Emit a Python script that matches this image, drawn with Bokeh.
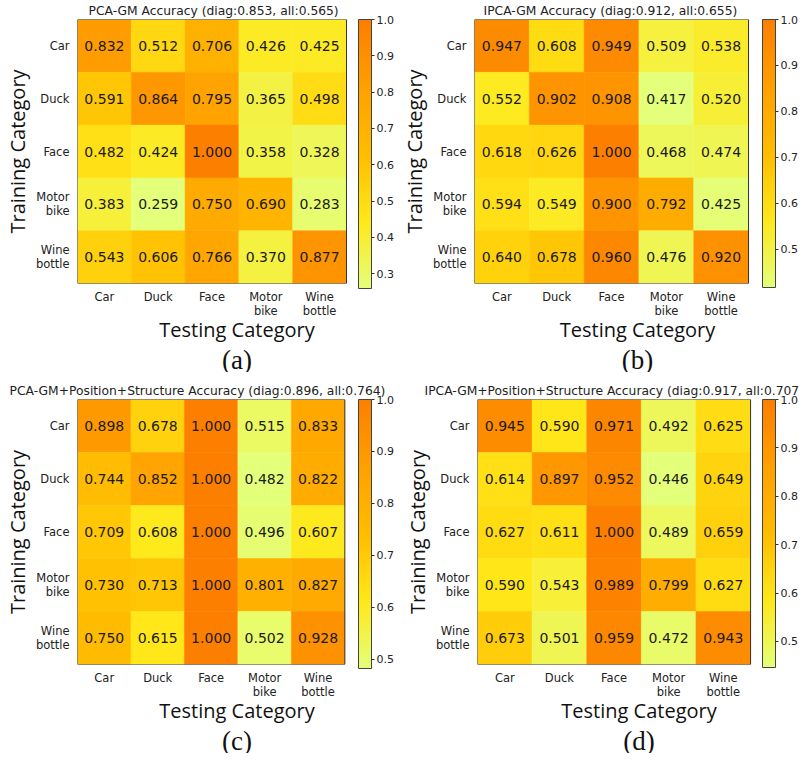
import numpy as np
from bokeh.plotting import figure
from bokeh.models import (ColumnDataSource, LinearColorMapper, ColorBar, FixedTicker,
                          PrintfTickFormatter, Title, Range1d)
from bokeh.layouts import column, row
from bokeh.embed import file_html
from bokeh.resources import INLINE
from bokeh.transform import transform

# ---------------- data ----------------
categories = ["Car", "Duck", "Face", "Motor\nbike", "Wine\nbottle"]

pca_gm = [
    [0.832, 0.512, 0.706, 0.426, 0.425],
    [0.591, 0.864, 0.795, 0.365, 0.498],
    [0.482, 0.424, 1.000, 0.358, 0.328],
    [0.383, 0.259, 0.750, 0.690, 0.283],
    [0.543, 0.606, 0.766, 0.370, 0.877],
]
ipca_gm = [
    [0.947, 0.608, 0.949, 0.509, 0.538],
    [0.552, 0.902, 0.908, 0.417, 0.520],
    [0.618, 0.626, 1.000, 0.468, 0.474],
    [0.594, 0.549, 0.900, 0.792, 0.425],
    [0.640, 0.678, 0.960, 0.476, 0.920],
]
pca_gm_ps = [
    [0.898, 0.678, 1.000, 0.515, 0.833],
    [0.744, 0.852, 1.000, 0.482, 0.822],
    [0.709, 0.608, 1.000, 0.496, 0.607],
    [0.730, 0.713, 1.000, 0.801, 0.827],
    [0.750, 0.615, 1.000, 0.502, 0.928],
]
ipca_gm_ps = [
    [0.945, 0.590, 0.971, 0.492, 0.625],
    [0.614, 0.897, 0.952, 0.446, 0.649],
    [0.627, 0.611, 1.000, 0.489, 0.659],
    [0.590, 0.543, 0.989, 0.799, 0.627],
    [0.673, 0.501, 0.959, 0.472, 0.943],
]
titles = [
    "PCA-GM Accuracy (diag:0.853, all:0.565)",
    "IPCA-GM Accuracy (diag:0.912, all:0.655)",
    "PCA-GM+Position+Structure Accuracy (diag:0.896, all:0.764)",
    "IPCA-GM+Position+Structure Accuracy (diag:0.917, all:0.707)",
]
tags = ["(a)", "(b)", "(c)", "(d)"]
cbar_ticks = [
    [0.3, 0.4, 0.5, 0.6, 0.7, 0.8, 0.9, 1.0],
    [0.5, 0.6, 0.7, 0.8, 0.9, 1.0],
    [0.5, 0.6, 0.7, 0.8, 0.9, 1.0],
    [0.5, 0.6, 0.7, 0.8, 0.9, 1.0],
]

# Wistia colormap
wistia_anchors = ["#e4ff7a", "#ffe81a", "#ffbd00", "#ffa000", "#fc7f00"]


def make_palette(anchors, n=256):
    rgb = np.array([[int(a[i:i + 2], 16) for i in (1, 3, 5)] for a in anchors], float)
    pos = np.linspace(0, 1, len(anchors))
    t = np.linspace(0, 1, n)
    cols = np.stack([np.interp(t, pos, rgb[:, k]) for k in range(3)], axis=1)
    return ["#%02x%02x%02x" % tuple(int(round(c)) for c in cc) for cc in cols]


palette = make_palette(wistia_anchors)


def make_panel(values, title, tag, ticks, pw, ph, left, top, hw, hh,
               title_offset):
    n = len(categories)
    xs, ys, vs, labels = [], [], [], []
    for i in range(n):
        for j in range(n):
            xs.append(j)
            ys.append(i)
            vs.append(values[i][j])
            labels.append("%.3f" % values[i][j])
    src = ColumnDataSource(dict(x=xs, y=ys, v=vs, label=labels))
    flat = [v for r in values for v in r]
    mapper = LinearColorMapper(palette=palette, low=min(flat), high=max(flat))

    fw = pw - left - 6             # frame runs (nearly) to the panel's right edge
    fh = hh
    bottom = ph - top - fh

    p = figure(width=pw, height=ph, output_backend="svg", toolbar_location=None,
               x_range=Range1d(-0.5, -0.5 + n * fw / hw),
               y_range=Range1d(n - 0.5, -0.5),
               min_border_left=left, min_border_top=top,
               min_border_right=0, min_border_bottom=bottom)
    p.title.text = title
    p.title.text_font = "DejaVu Sans"
    p.title.text_font_size = "12.3px"
    p.title.text_font_style = "normal"
    p.title.text_color = "#222222"
    p.title.align = "left"
    p.title.offset = title_offset
    p.title.standoff = 3
    p.title.text_line_height = 1.0

    p.rect(x="x", y="y", width=1, height=1, source=src,
           fill_color=transform("v", mapper), line_color=transform("v", mapper),
           line_width=0.5)
    p.text(x="x", y="y", text="label", source=src, text_align="center",
           text_baseline="middle", text_font_size="14px",
           text_font={"value": "DejaVu Sans"}, text_color="#1a1a1a")
    # heat-map border (axes spines)
    p.quad(left=-0.5, right=n - 0.5, bottom=-0.5, top=n - 0.5,
           fill_color=None, line_color="#333333", line_width=1)

    p.grid.visible = False
    p.outline_line_color = None
    p.background_fill_color = "white"
    p.border_fill_color = "white"
    label_map = {k: c for k, c in enumerate(categories)}
    for ax in (p.xaxis, p.yaxis):
        ax.ticker = FixedTicker(ticks=list(range(n)))
        ax.major_label_overrides = label_map
        ax.axis_line_color = None
        ax.major_tick_line_color = None
        ax.minor_tick_line_color = None
        ax.major_tick_in = 0
        ax.major_tick_out = 0
        ax.minor_tick_in = 0
        ax.minor_tick_out = 0
        ax.major_label_text_font = "DejaVu Sans"
        ax.major_label_text_font_size = "11.5px"
        ax.major_label_text_color = "#222222"
        ax.major_label_text_line_height = 1.0
        ax.axis_label_text_font = "Open Sans"
        ax.axis_label_text_font_size = "20px"
        ax.axis_label_text_font_style = "normal"
        ax.axis_label_text_color = "#111111"
        ax.axis_label_text_line_height = 1.0
    p.xaxis.axis_label = "Testing Category"
    p.yaxis.axis_label = "Training Category"
    p.xaxis.major_label_standoff = 6
    p.xaxis.axis_label_standoff = -5
    p.yaxis.major_label_standoff = 8
    p.yaxis.axis_label_standoff = 2

    # colour bar drawn inside the widened frame, at its right edge
    cb = ColorBar(color_mapper=mapper, ticker=FixedTicker(ticks=ticks),
                  formatter=PrintfTickFormatter(format="%.1f"),
                  location="top_right",
                  width=13, height=fh, padding=0, margin=0,
                  major_tick_in=0, major_tick_out=3,
                  major_tick_line_color="#333333", bar_line_color="#444444",
                  major_label_text_font="DejaVu Sans",
                  major_label_text_font_size="11px",
                  major_label_text_color="#222222",
                  label_standoff=2, background_fill_color=None,
                  border_line_color=None, orientation="vertical")
    p.add_layout(cb, "center")

    p.add_layout(Title(text=tag, align="center", text_font="Liberation Serif",
                       text_font_size="27px", text_font_style="normal",
                       text_color="#111111", standoff=-5,
                       text_line_height=1.0), "below")
    return p


#  arguments: panel width/height, frame left/top, heat-map width/height, title offset
pa = make_panel(pca_gm, titles[0], tags[0], cbar_ticks[0],
                396, 372, 71, 15, 269, 269, 11)
pb = make_panel(ipca_gm, titles[1], tags[1], cbar_ticks[1],
                404, 372, 78, 16, 269, 268, 9)
pc = make_panel(pca_gm_ps, titles[2], tags[2], cbar_ticks[2],
                396, 381, 69, 23, 269, 269, -68)
pd = make_panel(ipca_gm_ps, titles[3], tags[3], cbar_ticks[3],
                404, 381, 81, 27, 268, 268, -53)

layout = column(row(pa, pb), row(pc, pd))
open("out.html", "w").write(file_html(layout, INLINE))
